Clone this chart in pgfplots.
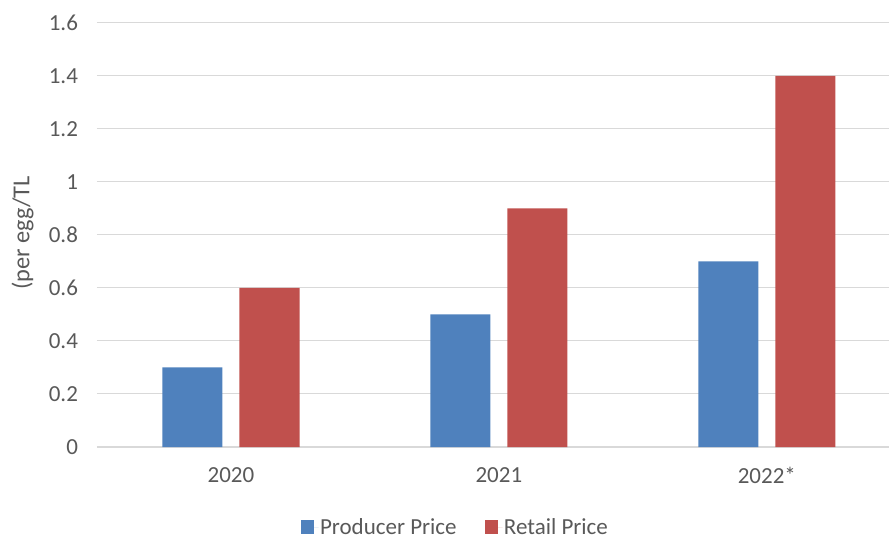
\documentclass[border=0pt]{standalone}
\usepackage{pgfplots}
\pgfplotsset{compat=1.18}
\usepackage{fontspec}
\setmainfont{Carlito}
\definecolor{txt}{HTML}{595959}
\definecolor{gridc}{HTML}{D9D9D9}
\definecolor{cblue}{HTML}{4F81BD}
\definecolor{cred}{HTML}{C0504D}
\begin{document}
\begin{tikzpicture}
\begin{axis}[
  scale only axis,
  width=594pt, height=318pt,
  at={(0,0)}, anchor=south west,
  xmin=-0.5, xmax=2.456,
  ymin=0, ymax=1.6,
  ytick={0,0.2,0.4,0.6,0.8,1,1.2,1.4,1.6},
  yticklabels={0,0.2,0.4,0.6,0.8,1,1.2,1.4,1.6},
  xtick={0,1,2},
  xticklabels={2020,2021,2022*},
  axis line style={draw=none},
  major tick length=0pt,
  ymajorgrids,
  grid style={gridc, line width=0.75pt},
  font=\fontsize{17.25pt}{20pt}\selectfont,
  tick label style={txt},
  yticklabel style={xshift=-10.75pt},
  xticklabel style={yshift=-11.75pt},
  ylabel={(per egg/TL},
  ylabel style={txt, font=\fontsize{18.25pt}{20pt}\selectfont, at={(axis description cs:-0.094,0.505)}, anchor=center},
  legend columns=2,
  legend style={draw=none, fill=none, at={(axis description cs:0.452,-0.19)}, anchor=center,
    text=txt, font=\fontsize{17.25pt}{20pt}\selectfont, inner sep=0pt,
    nodes={inner sep=1pt},
    /tikz/every even column/.append style={column sep=20pt}},
  legend image code/.code={\fill[#1] (0pt,-4.5pt) rectangle (10pt,5.5pt); \path (10pt,0pt) -- (13.5pt,0pt);},
  clip=false,
]
\addplot[ybar, bar width=0.224, bar shift=-0.1438, fill=cblue, draw=none]
  coordinates {(0,0.3) (1,0.5) (2,0.7)};
\addlegendentry{Producer Price}
\addplot[ybar, bar width=0.224, bar shift=0.1438, fill=cred, draw=none]
  coordinates {(0,0.6) (1,0.9) (2,1.4)};
\addlegendentry{Retail Price}
\end{axis}
\pgfresetboundingbox
\useasboundingbox (-72.75pt,-69pt) rectangle (594pt,335.25pt);
\end{tikzpicture}
\end{document}
